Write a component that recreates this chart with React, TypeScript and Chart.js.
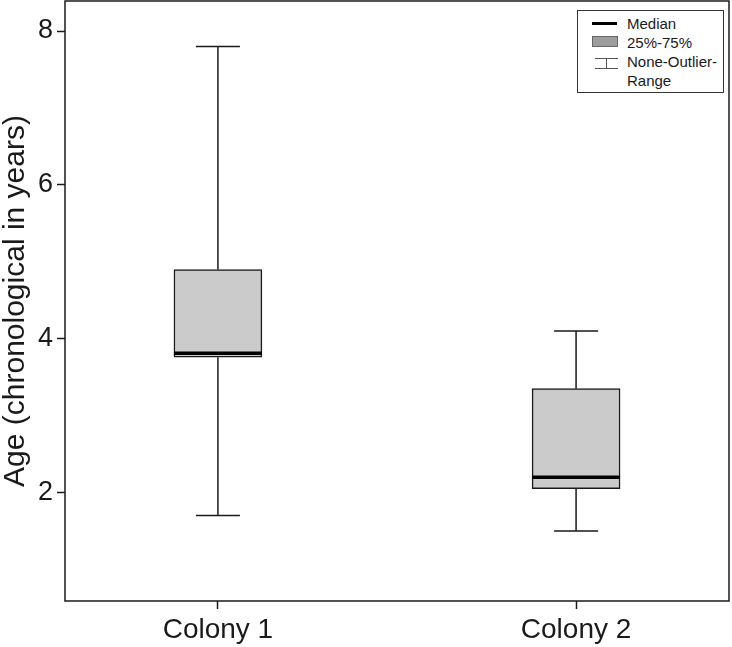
import React, { useEffect, useRef } from 'react';
import { Chart, registerables } from 'chart.js';

Chart.register(...registerables);

const categories = ['Colony 1', 'Colony 2'];
const positions = [1, 2];
const whiskerLow = [1.7, 1.5];
const q1 = [3.76, 2.05];
const median = [3.81, 2.2];
const q3 = [4.9, 3.35];
const whiskerHigh = [7.8, 4.1];
const yTicks = [2, 4, 6, 8];

const FONT = "'Liberation Sans', Arial, Helvetica, sans-serif";
const INK = '#1a1a1a';
const BOX_WIDTH = 88;
const CAP_HALF = 22;

const boxExtras = {
  id: 'boxExtras',
  beforeDatasetsDraw(chart: any) {
    const { ctx, scales } = chart;
    const xs = scales.x;
    const ys = scales.y;
    ctx.save();
    ctx.strokeStyle = INK;
    ctx.lineWidth = 1.5;
    positions.forEach((p, i) => {
      const x = xs.getPixelForValue(p);
      const yHi = ys.getPixelForValue(whiskerHigh[i]);
      const yQ3 = ys.getPixelForValue(q3[i]);
      const yQ1 = ys.getPixelForValue(q1[i]);
      const yLo = ys.getPixelForValue(whiskerLow[i]);
      ctx.beginPath();
      ctx.moveTo(x, yHi);
      ctx.lineTo(x, yQ3);
      ctx.moveTo(x, yQ1);
      ctx.lineTo(x, yLo);
      ctx.moveTo(x - CAP_HALF, yHi);
      ctx.lineTo(x + CAP_HALF, yHi);
      ctx.moveTo(x - CAP_HALF, yLo);
      ctx.lineTo(x + CAP_HALF, yLo);
      ctx.stroke();
    });
    ctx.restore();
  },
  afterDatasetsDraw(chart: any) {
    const { ctx, scales, chartArea } = chart;
    const xs = scales.x;
    const ys = scales.y;
    ctx.save();
    ctx.strokeStyle = '#000';
    ctx.lineWidth = 3.5;
    positions.forEach((p, i) => {
      const x = xs.getPixelForValue(p);
      const y = ys.getPixelForValue(median[i]);
      ctx.beginPath();
      ctx.moveTo(x - BOX_WIDTH / 2, y);
      ctx.lineTo(x + BOX_WIDTH / 2, y);
      ctx.stroke();
    });
    ctx.strokeStyle = INK;
    ctx.lineWidth = 1.5;
    ctx.strokeRect(
      chartArea.left,
      chartArea.top,
      chartArea.right - chartArea.left,
      chartArea.bottom - chartArea.top
    );
    ctx.restore();
  },
};

export default function App() {
  const canvasRef = useRef<HTMLCanvasElement | null>(null);

  useEffect(() => {
    const canvas = canvasRef.current;
    if (!canvas) return;
    const chart = new Chart(canvas, {
      type: 'bar',
      data: {
        datasets: [
          {
            label: '25%-75%',
            data: positions.map((p, i) => ({ x: p, y: [q1[i], q3[i]] })) as any,
            backgroundColor: '#cbcbcb',
            borderColor: INK,
            borderWidth: 1.5,
            borderSkipped: false,
            barThickness: BOX_WIDTH,
            grouped: false,
          } as any,
        ],
      },
      options: {
        animation: false,
        responsive: false,
        maintainAspectRatio: false,
        layout: { padding: { top: 1, right: 3, left: 0, bottom: 0 } },
        plugins: {
          legend: { display: false },
          tooltip: { enabled: false },
        },
        scales: {
          x: {
            type: 'linear',
            min: 0.573,
            max: 2.427,
            offset: false,
            afterBuildTicks: (axis: any) => {
              axis.ticks = positions.map((v) => ({ value: v }));
            },
            afterFit: (scale: any) => {
              scale.height = 46;
              scale.paddingLeft = 0;
              scale.paddingRight = 0;
            },
            border: { display: false },
            grid: {
              offset: false,
              drawOnChartArea: false,
              drawTicks: true,
              tickLength: 8,
              tickColor: INK,
              tickWidth: 1.5,
            },
            ticks: {
              color: INK,
              padding: 4,
              font: { family: FONT, size: 28 },
              maxRotation: 0,
              callback: (v: any) => {
                const idx = positions.indexOf(Number(v));
                return idx >= 0 ? categories[idx] : '';
              },
            },
          },
          y: {
            type: 'linear',
            min: 0.59,
            max: 8.39,
            afterBuildTicks: (axis: any) => {
              axis.ticks = yTicks.map((v) => ({ value: v }));
            },
            afterFit: (scale: any) => {
              scale.width = 65;
              scale.paddingTop = 0;
              scale.paddingBottom = 0;
            },
            border: { display: false },
            grid: {
              drawOnChartArea: false,
              drawTicks: true,
              tickLength: 8,
              tickColor: INK,
              tickWidth: 1.5,
            },
            ticks: {
              color: INK,
              padding: 4,
              font: { family: FONT, size: 27 },
            },
            title: {
              display: true,
              text: 'Age (chronological in years)',
              color: INK,
              font: { family: FONT, size: 30, lineHeight: 1.05 },
              padding: { top: 0, bottom: 0 },
            },
          },
        },
      } as any,
      plugins: [boxExtras],
    });
    return () => chart.destroy();
  }, []);

  const legendText: React.CSSProperties = {
    position: 'absolute',
    left: 49,
    fontFamily: FONT,
    fontSize: 15,
    lineHeight: '19px',
    color: INK,
    whiteSpace: 'nowrap',
  };

  return (
    <div style={{ position: 'fixed', left: 0, top: 0, width: 732, height: 647, background: '#fff' }}>
      <canvas ref={canvasRef} width={732} height={647} style={{ width: 732, height: 647, display: 'block' }} />
      <div
        style={{
          position: 'absolute',
          left: 577,
          top: 10,
          width: 145,
          height: 81,
          border: '1px solid #333',
          background: '#fff',
        }}
      >
        <div style={{ position: 'absolute', left: 14, top: 11, width: 25, height: 3, background: '#000' }} />
        <div style={{ ...legendText, top: 3 }}>Median</div>
        <div
          style={{
            position: 'absolute',
            left: 14,
            top: 25,
            width: 24,
            height: 9,
            background: '#9d9d9d',
            border: '1px solid #666',
          }}
        />
        <div style={{ ...legendText, top: 22 }}>25%-75%</div>
        <div style={{ position: 'absolute', left: 17, top: 47, width: 23, height: 1, background: '#555' }} />
        <div style={{ position: 'absolute', left: 28, top: 47, width: 1, height: 10, background: '#555' }} />
        <div style={{ position: 'absolute', left: 17, top: 57, width: 23, height: 1, background: '#555' }} />
        <div style={{ ...legendText, top: 41 }}>None-Outlier-</div>
        <div style={{ ...legendText, top: 60 }}>Range</div>
      </div>
    </div>
  );
}
